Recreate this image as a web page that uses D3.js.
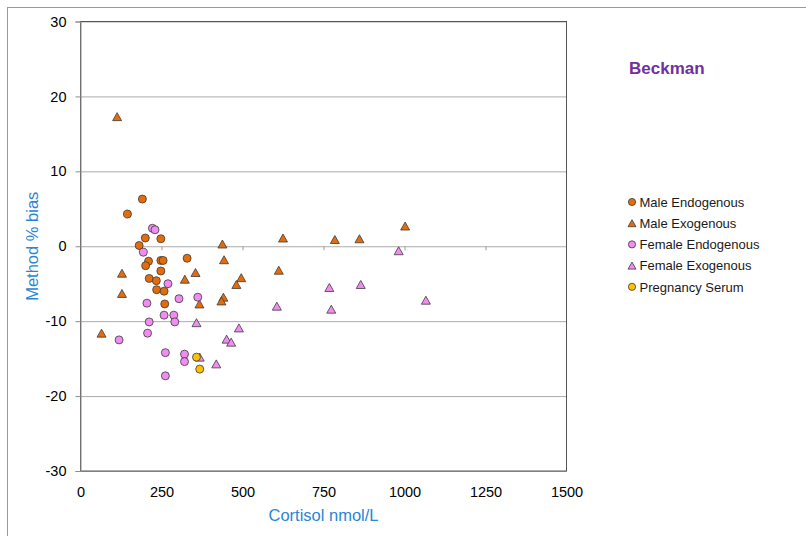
<!DOCTYPE html>
<html>
<head>
<meta charset="utf-8">
<script src="https://cdn.jsdelivr.net/npm/d3@7"></script>
<style>
  html, body { margin: 0; padding: 0; background: #fff; }
  svg { display: block; font-family: "Liberation Sans", Arial, sans-serif; }
</style>
</head>
<body>
<svg id="chart" width="806" height="536"></svg>
<script>
// Cortisol (nmol/L) vs method % bias, per sample group
const maleEndoX   = [191, 145, 200, 248, 181, 210, 201, 248, 255, 329, 248, 212, 234, 235, 258, 260];
const maleEndoY   = [6.3, 4.3, 1.1, 1.0, 0.1, -2.0, -2.6, -1.9, -1.9, -1.6, -3.3, -4.3, -4.6, -5.8, -6.0, -7.7];

const maleExoX    = [113, 438, 625, 785, 861, 1002, 443, 612, 128, 355, 322, 496, 481, 128, 441, 435, 367, 65];
const maleExoY    = [17.3, 0.3, 1.1, 0.9, 1.0, 2.7, -1.8, -3.2, -3.6, -3.5, -4.4, -4.2, -5.1, -6.3, -6.8, -7.3, -7.7, -11.6];

const femEndoX    = [222, 230, 194, 270, 205, 304, 362, 258, 288, 212, 291, 207, 119, 262, 321, 321, 262];
const femEndoY    = [2.4, 2.2, -0.8, -5.0, -7.6, -7.0, -6.8, -9.2, -9.2, -10.1, -10.1, -11.6, -12.5, -14.2, -14.4, -15.4, -17.3];

const femExoX     = [982, 768, 865, 606, 774, 1066, 358, 489, 451, 465, 368, 419];
const femExoY     = [-0.6, -5.5, -5.1, -8.0, -8.4, -7.2, -10.2, -10.9, -12.4, -12.8, -14.8, -15.7];

const pregX       = [358, 368];
const pregY       = [-14.8, -16.4];

const seriesNames = ["Male Endogenous", "Male Exogenous", "Female Endogenous", "Female Exogenous", "Pregnancy Serum"];
const xTicks = [0, 250, 500, 750, 1000, 1250, 1500];
const yTicks = [-30, -20, -10, 0, 10, 20, 30];

const series = [
  { name: seriesNames[0], xs: maleEndoX, ys: maleEndoY, shape: "circle",   fill: "#E46C0A" },
  { name: seriesNames[1], xs: maleExoX,  ys: maleExoY,  shape: "triangle", fill: "#E46C0A" },
  { name: seriesNames[2], xs: femEndoX,  ys: femEndoY,  shape: "circle",   fill: "#F28CF2" },
  { name: seriesNames[3], xs: femExoX,   ys: femExoY,   shape: "triangle", fill: "#F28CF2" },
  { name: seriesNames[4], xs: pregX,     ys: pregY,     shape: "circle",   fill: "#FFC000" }
];

const svg = d3.select("#chart");
const plotL = 80.5, plotR = 566.5, plotT = 21.5, plotB = 471;
const plainNum = d => String(d);   // plain hyphen minus, no thousands separator

const x = d3.scaleLinear().domain([0, 1500]).range([plotL, plotR]);
const y = d3.scaleLinear().domain([-30, 30]).range([plotB, plotT]);

// outer chart frame
svg.append("rect")
  .attr("x", 7.5).attr("y", 7.5).attr("width", 820).attr("height", 560)
  .attr("fill", "#fff").attr("stroke", "#9a9a9a").attr("stroke-width", 1);

// horizontal gridlines
svg.append("g")
  .attr("transform", `translate(${plotL},0)`)
  .call(d3.axisLeft(y).tickValues(yTicks).tickSize(-(plotR - plotL)).tickFormat(""))
  .call(g => g.select(".domain").remove())
  .call(g => g.selectAll(".tick line").attr("stroke", "#ababab").attr("stroke-width", 1));

// plot border
svg.append("rect")
  .attr("x", plotL).attr("y", plotT).attr("width", plotR - plotL).attr("height", plotB - plotT)
  .attr("fill", "none").attr("stroke", "#555").attr("stroke-width", 1);

// y axis with outward ticks
svg.append("g")
  .attr("transform", `translate(${plotL},0)`)
  .call(d3.axisLeft(y).tickValues(yTicks).tickSize(5).tickPadding(9).tickFormat(plainNum))
  .call(g => g.select(".domain").attr("stroke", "#8c8c8c"))
  .call(g => g.selectAll(".tick line").attr("stroke", "#8c8c8c"))
  .call(g => g.selectAll(".tick text").attr("fill", "#000").attr("font-size", "14.5px")
               .attr("font-family", "Liberation Sans, Arial, sans-serif"));

// x axis line crossing at zero, with small downward ticks
svg.append("g")
  .attr("transform", `translate(0,${y(0)})`)
  .call(d3.axisBottom(x).tickValues(xTicks.slice(1, -1)).tickSize(4).tickFormat(""))
  .call(g => g.select(".domain").remove())
  .call(g => g.selectAll(".tick line").attr("stroke", "#9a9a9a"));

// x tick labels along the bottom
svg.append("g")
  .attr("transform", `translate(0,${plotB})`)
  .call(d3.axisBottom(x).tickValues(xTicks).tickSize(0).tickPadding(16).tickFormat(plainNum))
  .call(g => g.select(".domain").remove())
  .call(g => g.selectAll(".tick text").attr("fill", "#000").attr("font-size", "14.5px")
               .attr("font-family", "Liberation Sans, Arial, sans-serif"));

// axis titles
svg.append("text")
  .attr("x", (plotL + plotR) / 2).attr("y", 521)
  .attr("text-anchor", "middle").attr("font-size", "16.5px").attr("fill", "#2A86D4")
  .text("Cortisol nmol/L");

svg.append("text")
  .attr("transform", `translate(38,${y(0)}) rotate(-90)`)
  .attr("text-anchor", "middle").attr("font-size", "16.5px").attr("fill", "#2A86D4")
  .text("Method % bias");

// chart title
svg.append("text")
  .attr("x", 629).attr("y", 74)
  .attr("font-size", "17px").attr("font-weight", "bold").attr("fill", "#7030A0")
  .text("Beckman");

function triPath(w, h) {
  return `M0,${-h / 2}L${w / 2},${h / 2}L${-w / 2},${h / 2}Z`;
}

// markers
series.forEach(s => {
  const pts = s.xs.map((v, i) => [v, s.ys[i]]);
  const g = svg.append("g");
  if (s.shape === "circle") {
    g.selectAll("circle").data(pts).join("circle")
      .attr("cx", d => x(d[0])).attr("cy", d => y(d[1])).attr("r", 4)
      .attr("fill", s.fill).attr("stroke", "#3b3b3b").attr("stroke-width", 0.8);
  } else {
    g.selectAll("path").data(pts).join("path")
      .attr("transform", d => `translate(${x(d[0])},${y(d[1])})`)
      .attr("d", triPath(9, 8))
      .attr("fill", s.fill).attr("stroke", "#3b3b3b").attr("stroke-width", 0.8);
  }
});

// legend
const legend = svg.append("g").attr("transform", "translate(632,202)");
series.forEach((s, i) => {
  const row = legend.append("g").attr("transform", `translate(0,${i * 21.2})`);
  if (s.shape === "circle") {
    row.append("circle").attr("r", 3.6)
      .attr("fill", s.fill).attr("stroke", "#3b3b3b").attr("stroke-width", 0.8);
  } else {
    row.append("path").attr("d", triPath(8, 7))
      .attr("fill", s.fill).attr("stroke", "#3b3b3b").attr("stroke-width", 0.8);
  }
  row.append("text").attr("x", 7.5).attr("y", 4.7)
    .attr("font-size", "13px").attr("fill", "#1a1a1a")
    .text(s.name);
});
</script>
</body>
</html>
